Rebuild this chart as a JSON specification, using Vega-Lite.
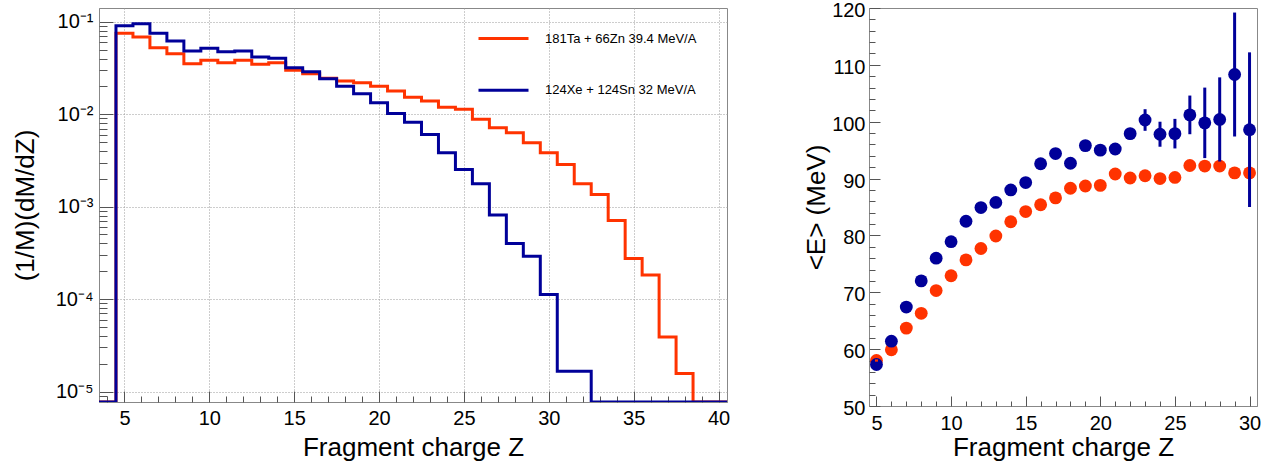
{
  "$schema": "https://vega.github.io/schema/vega-lite/v6.json",
  "background": "white",
  "padding": {"left": 11, "top": 0, "right": 0, "bottom": 0},
  "bounds": "flush",
  "spacing": 142,
  "config": {
    "font": "Liberation Sans",
    "view": {"stroke": "#888888", "strokeWidth": 1},
    "axis": {
      "labelFont": "Liberation Sans",
      "titleFont": "Liberation Sans",
      "labelColor": "#000000",
      "titleColor": "#000000",
      "titleFontWeight": "normal",
      "labelFontSize": 20,
      "titleFontSize": 26,
      "domainColor": "#888888",
      "tickColor": "#555555",
      "labelOverlap": false,
      "labelFlush": false
    }
  },
  "datasets": {
    "hist": [
      {"Z": 3, "dMdZ": 0, "reaction": "181Ta + 66Zn 39.4 MeV/A"},
      {"Z": 4, "dMdZ": 0, "reaction": "181Ta + 66Zn 39.4 MeV/A"},
      {"Z": 5, "dMdZ": 0.0748, "reaction": "181Ta + 66Zn 39.4 MeV/A"},
      {"Z": 6, "dMdZ": 0.0683, "reaction": "181Ta + 66Zn 39.4 MeV/A"},
      {"Z": 7, "dMdZ": 0.0523, "reaction": "181Ta + 66Zn 39.4 MeV/A"},
      {"Z": 8, "dMdZ": 0.0451, "reaction": "181Ta + 66Zn 39.4 MeV/A"},
      {"Z": 9, "dMdZ": 0.0351, "reaction": "181Ta + 66Zn 39.4 MeV/A"},
      {"Z": 10, "dMdZ": 0.0382, "reaction": "181Ta + 66Zn 39.4 MeV/A"},
      {"Z": 11, "dMdZ": 0.036, "reaction": "181Ta + 66Zn 39.4 MeV/A"},
      {"Z": 12, "dMdZ": 0.0382, "reaction": "181Ta + 66Zn 39.4 MeV/A"},
      {"Z": 13, "dMdZ": 0.0346, "reaction": "181Ta + 66Zn 39.4 MeV/A"},
      {"Z": 14, "dMdZ": 0.036, "reaction": "181Ta + 66Zn 39.4 MeV/A"},
      {"Z": 15, "dMdZ": 0.0298, "reaction": "181Ta + 66Zn 39.4 MeV/A"},
      {"Z": 16, "dMdZ": 0.0274, "reaction": "181Ta + 66Zn 39.4 MeV/A"},
      {"Z": 17, "dMdZ": 0.0244, "reaction": "181Ta + 66Zn 39.4 MeV/A"},
      {"Z": 18, "dMdZ": 0.0228, "reaction": "181Ta + 66Zn 39.4 MeV/A"},
      {"Z": 19, "dMdZ": 0.0219, "reaction": "181Ta + 66Zn 39.4 MeV/A"},
      {"Z": 20, "dMdZ": 0.0201, "reaction": "181Ta + 66Zn 39.4 MeV/A"},
      {"Z": 21, "dMdZ": 0.0178, "reaction": "181Ta + 66Zn 39.4 MeV/A"},
      {"Z": 22, "dMdZ": 0.0152, "reaction": "181Ta + 66Zn 39.4 MeV/A"},
      {"Z": 23, "dMdZ": 0.0139, "reaction": "181Ta + 66Zn 39.4 MeV/A"},
      {"Z": 24, "dMdZ": 0.0119, "reaction": "181Ta + 66Zn 39.4 MeV/A"},
      {"Z": 25, "dMdZ": 0.0113, "reaction": "181Ta + 66Zn 39.4 MeV/A"},
      {"Z": 26, "dMdZ": 0.00879, "reaction": "181Ta + 66Zn 39.4 MeV/A"},
      {"Z": 27, "dMdZ": 0.00713, "reaction": "181Ta + 66Zn 39.4 MeV/A"},
      {"Z": 28, "dMdZ": 0.00629, "reaction": "181Ta + 66Zn 39.4 MeV/A"},
      {"Z": 29, "dMdZ": 0.00491, "reaction": "181Ta + 66Zn 39.4 MeV/A"},
      {"Z": 30, "dMdZ": 0.00382, "reaction": "181Ta + 66Zn 39.4 MeV/A"},
      {"Z": 31, "dMdZ": 0.00286, "reaction": "181Ta + 66Zn 39.4 MeV/A"},
      {"Z": 32, "dMdZ": 0.00177, "reaction": "181Ta + 66Zn 39.4 MeV/A"},
      {"Z": 33, "dMdZ": 0.00135, "reaction": "181Ta + 66Zn 39.4 MeV/A"},
      {"Z": 34, "dMdZ": 0.00071, "reaction": "181Ta + 66Zn 39.4 MeV/A"},
      {"Z": 35, "dMdZ": 0.000275, "reaction": "181Ta + 66Zn 39.4 MeV/A"},
      {"Z": 36, "dMdZ": 0.000182, "reaction": "181Ta + 66Zn 39.4 MeV/A"},
      {"Z": 37, "dMdZ": 0.000039, "reaction": "181Ta + 66Zn 39.4 MeV/A"},
      {"Z": 38, "dMdZ": 0.0000157, "reaction": "181Ta + 66Zn 39.4 MeV/A"},
      {"Z": 39, "dMdZ": 0, "reaction": "181Ta + 66Zn 39.4 MeV/A"},
      {"Z": 40, "dMdZ": 0, "reaction": "181Ta + 66Zn 39.4 MeV/A"},
      {"Z": 41, "dMdZ": 0, "reaction": "181Ta + 66Zn 39.4 MeV/A"},
      {"Z": 3, "dMdZ": 0, "reaction": "124Xe + 124Sn 32 MeV/A"},
      {"Z": 4, "dMdZ": 0, "reaction": "124Xe + 124Sn 32 MeV/A"},
      {"Z": 5, "dMdZ": 0.0905, "reaction": "124Xe + 124Sn 32 MeV/A"},
      {"Z": 6, "dMdZ": 0.095, "reaction": "124Xe + 124Sn 32 MeV/A"},
      {"Z": 7, "dMdZ": 0.0748, "reaction": "124Xe + 124Sn 32 MeV/A"},
      {"Z": 8, "dMdZ": 0.0618, "reaction": "124Xe + 124Sn 32 MeV/A"},
      {"Z": 9, "dMdZ": 0.0482, "reaction": "124Xe + 124Sn 32 MeV/A"},
      {"Z": 10, "dMdZ": 0.0515, "reaction": "124Xe + 124Sn 32 MeV/A"},
      {"Z": 11, "dMdZ": 0.0473, "reaction": "124Xe + 124Sn 32 MeV/A"},
      {"Z": 12, "dMdZ": 0.0482, "reaction": "124Xe + 124Sn 32 MeV/A"},
      {"Z": 13, "dMdZ": 0.0415, "reaction": "124Xe + 124Sn 32 MeV/A"},
      {"Z": 14, "dMdZ": 0.0402, "reaction": "124Xe + 124Sn 32 MeV/A"},
      {"Z": 15, "dMdZ": 0.0318, "reaction": "124Xe + 124Sn 32 MeV/A"},
      {"Z": 16, "dMdZ": 0.0288, "reaction": "124Xe + 124Sn 32 MeV/A"},
      {"Z": 17, "dMdZ": 0.0241, "reaction": "124Xe + 124Sn 32 MeV/A"},
      {"Z": 18, "dMdZ": 0.0201, "reaction": "124Xe + 124Sn 32 MeV/A"},
      {"Z": 19, "dMdZ": 0.0166, "reaction": "124Xe + 124Sn 32 MeV/A"},
      {"Z": 20, "dMdZ": 0.0133, "reaction": "124Xe + 124Sn 32 MeV/A"},
      {"Z": 21, "dMdZ": 0.0102, "reaction": "124Xe + 124Sn 32 MeV/A"},
      {"Z": 22, "dMdZ": 0.0082, "reaction": "124Xe + 124Sn 32 MeV/A"},
      {"Z": 23, "dMdZ": 0.00604, "reaction": "124Xe + 124Sn 32 MeV/A"},
      {"Z": 24, "dMdZ": 0.00382, "reaction": "124Xe + 124Sn 32 MeV/A"},
      {"Z": 25, "dMdZ": 0.00253, "reaction": "124Xe + 124Sn 32 MeV/A"},
      {"Z": 26, "dMdZ": 0.00177, "reaction": "124Xe + 124Sn 32 MeV/A"},
      {"Z": 27, "dMdZ": 0.00081, "reaction": "124Xe + 124Sn 32 MeV/A"},
      {"Z": 28, "dMdZ": 0.0004, "reaction": "124Xe + 124Sn 32 MeV/A"},
      {"Z": 29, "dMdZ": 0.000291, "reaction": "124Xe + 124Sn 32 MeV/A"},
      {"Z": 30, "dMdZ": 0.000112, "reaction": "124Xe + 124Sn 32 MeV/A"},
      {"Z": 31, "dMdZ": 0.0000166, "reaction": "124Xe + 124Sn 32 MeV/A"},
      {"Z": 32, "dMdZ": 0.0000166, "reaction": "124Xe + 124Sn 32 MeV/A"},
      {"Z": 33, "dMdZ": 0, "reaction": "124Xe + 124Sn 32 MeV/A"},
      {"Z": 34, "dMdZ": 0, "reaction": "124Xe + 124Sn 32 MeV/A"},
      {"Z": 35, "dMdZ": 0, "reaction": "124Xe + 124Sn 32 MeV/A"},
      {"Z": 36, "dMdZ": 0, "reaction": "124Xe + 124Sn 32 MeV/A"},
      {"Z": 37, "dMdZ": 0, "reaction": "124Xe + 124Sn 32 MeV/A"},
      {"Z": 38, "dMdZ": 0, "reaction": "124Xe + 124Sn 32 MeV/A"},
      {"Z": 39, "dMdZ": 0, "reaction": "124Xe + 124Sn 32 MeV/A"},
      {"Z": 40, "dMdZ": 0, "reaction": "124Xe + 124Sn 32 MeV/A"},
      {"Z": 41, "dMdZ": 0, "reaction": "124Xe + 124Sn 32 MeV/A"}
    ],
    "mean": [
      {"Z": 5, "E": 58.0, "err": 0.2, "reaction": "181Ta + 66Zn 39.4 MeV/A"},
      {"Z": 6, "E": 59.9, "err": 0.2, "reaction": "181Ta + 66Zn 39.4 MeV/A"},
      {"Z": 7, "E": 63.7, "err": 0.2, "reaction": "181Ta + 66Zn 39.4 MeV/A"},
      {"Z": 8, "E": 66.3, "err": 0.2, "reaction": "181Ta + 66Zn 39.4 MeV/A"},
      {"Z": 9, "E": 70.3, "err": 0.2, "reaction": "181Ta + 66Zn 39.4 MeV/A"},
      {"Z": 10, "E": 72.9, "err": 0.2, "reaction": "181Ta + 66Zn 39.4 MeV/A"},
      {"Z": 11, "E": 75.7, "err": 0.2, "reaction": "181Ta + 66Zn 39.4 MeV/A"},
      {"Z": 12, "E": 77.7, "err": 0.2, "reaction": "181Ta + 66Zn 39.4 MeV/A"},
      {"Z": 13, "E": 79.9, "err": 0.2, "reaction": "181Ta + 66Zn 39.4 MeV/A"},
      {"Z": 14, "E": 82.4, "err": 0.2, "reaction": "181Ta + 66Zn 39.4 MeV/A"},
      {"Z": 15, "E": 84.2, "err": 0.2, "reaction": "181Ta + 66Zn 39.4 MeV/A"},
      {"Z": 16, "E": 85.4, "err": 0.2, "reaction": "181Ta + 66Zn 39.4 MeV/A"},
      {"Z": 17, "E": 86.6, "err": 0.3, "reaction": "181Ta + 66Zn 39.4 MeV/A"},
      {"Z": 18, "E": 88.3, "err": 0.3, "reaction": "181Ta + 66Zn 39.4 MeV/A"},
      {"Z": 19, "E": 88.7, "err": 0.3, "reaction": "181Ta + 66Zn 39.4 MeV/A"},
      {"Z": 20, "E": 88.8, "err": 0.3, "reaction": "181Ta + 66Zn 39.4 MeV/A"},
      {"Z": 21, "E": 90.8, "err": 0.3, "reaction": "181Ta + 66Zn 39.4 MeV/A"},
      {"Z": 22, "E": 90.1, "err": 0.3, "reaction": "181Ta + 66Zn 39.4 MeV/A"},
      {"Z": 23, "E": 90.5, "err": 0.4, "reaction": "181Ta + 66Zn 39.4 MeV/A"},
      {"Z": 24, "E": 90.0, "err": 0.4, "reaction": "181Ta + 66Zn 39.4 MeV/A"},
      {"Z": 25, "E": 90.2, "err": 0.4, "reaction": "181Ta + 66Zn 39.4 MeV/A"},
      {"Z": 26, "E": 92.3, "err": 0.5, "reaction": "181Ta + 66Zn 39.4 MeV/A"},
      {"Z": 27, "E": 92.2, "err": 0.5, "reaction": "181Ta + 66Zn 39.4 MeV/A"},
      {"Z": 28, "E": 92.2, "err": 0.6, "reaction": "181Ta + 66Zn 39.4 MeV/A"},
      {"Z": 29, "E": 91.0, "err": 0.6, "reaction": "181Ta + 66Zn 39.4 MeV/A"},
      {"Z": 30, "E": 91.0, "err": 0.7, "reaction": "181Ta + 66Zn 39.4 MeV/A"},
      {"Z": 5, "E": 57.3, "err": 0.3, "reaction": "124Xe + 124Sn 32 MeV/A"},
      {"Z": 6, "E": 61.4, "err": 0.3, "reaction": "124Xe + 124Sn 32 MeV/A"},
      {"Z": 7, "E": 67.4, "err": 0.3, "reaction": "124Xe + 124Sn 32 MeV/A"},
      {"Z": 8, "E": 72.0, "err": 0.3, "reaction": "124Xe + 124Sn 32 MeV/A"},
      {"Z": 9, "E": 76.0, "err": 0.3, "reaction": "124Xe + 124Sn 32 MeV/A"},
      {"Z": 10, "E": 78.9, "err": 0.3, "reaction": "124Xe + 124Sn 32 MeV/A"},
      {"Z": 11, "E": 82.5, "err": 0.3, "reaction": "124Xe + 124Sn 32 MeV/A"},
      {"Z": 12, "E": 84.9, "err": 0.3, "reaction": "124Xe + 124Sn 32 MeV/A"},
      {"Z": 13, "E": 85.8, "err": 0.4, "reaction": "124Xe + 124Sn 32 MeV/A"},
      {"Z": 14, "E": 88.0, "err": 0.4, "reaction": "124Xe + 124Sn 32 MeV/A"},
      {"Z": 15, "E": 89.3, "err": 0.4, "reaction": "124Xe + 124Sn 32 MeV/A"},
      {"Z": 16, "E": 92.6, "err": 0.5, "reaction": "124Xe + 124Sn 32 MeV/A"},
      {"Z": 17, "E": 94.4, "err": 0.5, "reaction": "124Xe + 124Sn 32 MeV/A"},
      {"Z": 18, "E": 92.7, "err": 0.6, "reaction": "124Xe + 124Sn 32 MeV/A"},
      {"Z": 19, "E": 95.8, "err": 0.6, "reaction": "124Xe + 124Sn 32 MeV/A"},
      {"Z": 20, "E": 95.0, "err": 0.7, "reaction": "124Xe + 124Sn 32 MeV/A"},
      {"Z": 21, "E": 95.2, "err": 0.8, "reaction": "124Xe + 124Sn 32 MeV/A"},
      {"Z": 22, "E": 97.9, "err": 1.0, "reaction": "124Xe + 124Sn 32 MeV/A"},
      {"Z": 23, "E": 100.3, "err": 1.9, "reaction": "124Xe + 124Sn 32 MeV/A"},
      {"Z": 24, "E": 97.8, "err": 2.2, "reaction": "124Xe + 124Sn 32 MeV/A"},
      {"Z": 25, "E": 97.9, "err": 2.6, "reaction": "124Xe + 124Sn 32 MeV/A"},
      {"Z": 26, "E": 101.2, "err": 3.4, "reaction": "124Xe + 124Sn 32 MeV/A"},
      {"Z": 27, "E": 99.8, "err": 6.2, "reaction": "124Xe + 124Sn 32 MeV/A"},
      {"Z": 28, "E": 100.4, "err": 7.4, "reaction": "124Xe + 124Sn 32 MeV/A"},
      {"Z": 29, "E": 108.3, "err": 10.9, "reaction": "124Xe + 124Sn 32 MeV/A"},
      {"Z": 30, "E": 98.6, "err": 13.6, "reaction": "124Xe + 124Sn 32 MeV/A"}
    ]
  },
  "hconcat": [
    {
      "width": 628,
      "height": 394,
      "data": {"name": "hist"},
      "layer": [
        {
          "mark": {"type": "line", "interpolate": "step", "strokeWidth": 3, "clip": true},
          "encoding": {
            "x": {
              "field": "Z", "type": "quantitative",
              "scale": {"domain": [3.5, 40.5], "nice": false, "zero": false},
              "axis": {
                "orient": "bottom",
                "values": [5, 10, 15, 20, 25, 30, 35, 40],
                "title": "Fragment charge Z",
                "grid": true, "gridDash": [1, 2], "gridColor": "#9a9a9a",
                "tickSize": -11, "labelPadding": 17, "titlePadding": 6
              }
            },
            "y": {
              "field": "dMdZ", "type": "quantitative",
              "scale": {"type": "log", "domain": [0.00000772, 0.1407], "nice": false, "clamp": true},
              "axis": {
                "orient": "left",
                "values": [0.00001, 0.0001, 0.001, 0.01, 0.1],
                "labelExpr": "datum.value > 0.05 ? '10⁻¹' : datum.value > 0.005 ? '10⁻²' : datum.value > 0.0005 ? '10⁻³' : datum.value > 0.00005 ? '10⁻⁴' : '10⁻⁵'",
                "title": "(1/M)(dM/dZ)",
                "grid": true, "gridDash": [1, 2], "gridColor": "#9a9a9a",
                "tickSize": -14, "labelPadding": 20, "titlePadding": 17
              }
            },
            "color": {
              "field": "reaction", "type": "nominal",
              "scale": {"domain": ["181Ta + 66Zn 39.4 MeV/A", "124Xe + 124Sn 32 MeV/A"], "range": ["#ff3300", "#000099"]},
              "legend": {
                "orient": "none", "legendX": 378, "legendY": 4,
                "title": null, "padding": 0,
                "symbolType": "stroke", "symbolSize": 2500, "symbolStrokeWidth": 3,
                "labelFont": "Liberation Sans", "labelFontSize": 13, "labelColor": "#000000",
                "labelOffset": 15, "rowPadding": 17.7, "labelLimit": 300
              }
            }
          }
        },
        {
          "mark": {"type": "point", "opacity": 0},
          "encoding": {
            "x": {
              "field": "Z", "type": "quantitative",
              "axis": {
                "orient": "bottom",
                "values": [4, 5, 6, 7, 8, 9, 10, 11, 12, 13, 14, 15, 16, 17, 18, 19, 20, 21, 22, 23, 24, 25, 26, 27, 28, 29, 30, 31, 32, 33, 34, 35, 36, 37, 38, 39, 40],
                "labels": false, "grid": false, "domain": false, "title": null, "tickSize": -6
              }
            },
            "y": {
              "field": "dMdZ", "type": "quantitative",
              "axis": {
                "orient": "left",
                "values": [0.000008, 0.000009, 0.00002, 0.00003, 0.00004, 0.00005, 0.00006, 0.00007, 0.00008, 0.00009, 0.0002, 0.0003, 0.0004, 0.0005, 0.0006, 0.0007, 0.0008, 0.0009, 0.002, 0.003, 0.004, 0.005, 0.006, 0.007, 0.008, 0.009, 0.02, 0.03, 0.04, 0.05, 0.06, 0.07, 0.08, 0.09],
                "labels": false, "grid": false, "domain": false, "title": null, "tickSize": -8
              }
            }
          }
        }
      ],
      "resolve": {"axis": {"x": "independent", "y": "independent"}}
    },
    {
      "width": 388,
      "height": 398,
      "data": {"name": "mean"},
      "layer": [
        {
          "mark": {"type": "circle", "size": 165, "opacity": 1},
          "encoding": {
            "x": {
              "field": "Z", "type": "quantitative",
              "scale": {"domain": [4.5, 30.5], "nice": false, "zero": false},
              "axis": {
                "orient": "bottom",
                "values": [5, 10, 15, 20, 25, 30],
                "title": "Fragment charge Z",
                "grid": false, "tickSize": -10, "labelPadding": 17.5, "titlePadding": 1
              }
            },
            "y": {
              "field": "E", "type": "quantitative",
              "scale": {"domain": [50, 120], "nice": false, "zero": false},
              "axis": {
                "orient": "left",
                "values": [50, 60, 70, 80, 90, 100, 110, 120],
                "title": "<E> (MeV)",
                "grid": false, "tickSize": -11, "labelPadding": 15, "labelOffset": 2.5, "titlePadding": 2
              }
            },
            "color": {
              "field": "reaction", "type": "nominal",
              "scale": {"domain": ["181Ta + 66Zn 39.4 MeV/A", "124Xe + 124Sn 32 MeV/A"], "range": ["#ff3300", "#000099"]},
              "legend": null
            }
          }
        },
        {
          "mark": {"type": "errorbar", "thickness": 3},
          "encoding": {
            "x": {"field": "Z", "type": "quantitative", "axis": null},
            "y": {"field": "E", "type": "quantitative", "axis": null},
            "yError": {"field": "err"},
            "color": {"field": "reaction", "type": "nominal", "legend": null}
          }
        },
        {
          "mark": {"type": "point", "opacity": 0},
          "encoding": {
            "x": {
              "field": "Z", "type": "quantitative",
              "axis": {
                "orient": "bottom",
                "values": [5, 6, 7, 8, 9, 10, 11, 12, 13, 14, 15, 16, 17, 18, 19, 20, 21, 22, 23, 24, 25, 26, 27, 28, 29, 30],
                "labels": false, "grid": false, "domain": false, "title": null, "tickSize": -5
              }
            },
            "y": {
              "field": "E", "type": "quantitative",
              "axis": {
                "orient": "left",
                "values": [52, 54, 56, 58, 62, 64, 66, 68, 72, 74, 76, 78, 82, 84, 86, 88, 92, 94, 96, 98, 102, 104, 106, 108, 112, 114, 116, 118],
                "labels": false, "grid": false, "domain": false, "title": null, "tickSize": -6
              }
            }
          }
        }
      ],
      "resolve": {"axis": {"x": "independent", "y": "independent"}}
    }
  ]
}
